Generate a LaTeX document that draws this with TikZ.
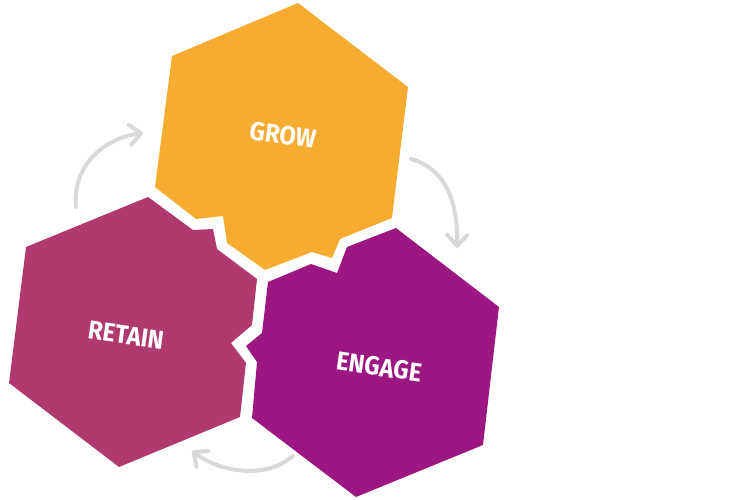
\documentclass[tikz,border=0pt]{standalone}
\usepackage{fontspec}
\setmainfont{Fira Sans}
\usetikzlibrary{arrows.meta}
\definecolor{growc}{HTML}{F5AC31}
\definecolor{retainc}{HTML}{B0396F}
\definecolor{engagec}{HTML}{9C1781}
\definecolor{arrowc}{HTML}{D9D9D9}
\newcommand{\hexlabel}[1]{\scalebox{0.92}[1]{#1}}
\tikzset{
  hexfill/.style={fill=#1, draw=none},
  label/.style={text=white, font=\bfseries\fontsize{26}{26}\selectfont, rotate=-8, inner sep=0pt},
  cyclearrow/.style={draw=arrowc, line width=4pt, line cap=round, -{Straight Barb[length=11pt,width=20pt,round]}}
}
\begin{document}
\begin{tikzpicture}[x=1pt,y=-1pt]
\useasboundingbox (0,0) rectangle (750,500);
% GROW
\fill[hexfill=growc] (298,3) -- (408,87) -- (392,218) -- (340,239) -- (332,258) -- (312,252) -- (265,270) -- (227,243) -- (223,216) -- (196,219) -- (155,187) -- (172,56) -- cycle;
% RETAIN
\fill[hexfill=retainc] (148,197) -- (193,230) -- (213,229) -- (217,249) -- (257,279) -- (252,325) -- (231,343) -- (246,363) -- (240,417) -- (119,467) -- (9,383) -- (26,247) -- cycle;
% ENGAGE
\fill[hexfill=engagec] (396,228) -- (499,307) -- (483,445) -- (356,497) -- (252,418) -- (257,362) -- (246,346) -- (262,333) -- (268,282) -- (311,264) -- (337,273) -- (347,247) -- cycle;
\node[label] (grow) at (283,135) {\hexlabel{GROW}};
\node[label] (retain) at (126,335) {\hexlabel{RETAIN}};
\node[label] (engage) at (379,367) {\hexlabel{ENGAGE}};
% arrows
\coordinate (a1s) at (76,207);
\coordinate (a1e) at (143,133);
\coordinate (a2s) at (411,159);
\coordinate (a2e) at (457,248);
\coordinate (a3s) at (293,456);
\coordinate (a3e) at (192,451);
\draw[cyclearrow] (a1s) .. controls (72,165) and (105,138) .. (a1e);
\draw[cyclearrow] (a2s) .. controls (450,170) and (458,210) .. (a2e);
\draw[cyclearrow] (a3s) .. controls (265,480) and (220,472) .. (a3e);
\end{tikzpicture}
\end{document}
